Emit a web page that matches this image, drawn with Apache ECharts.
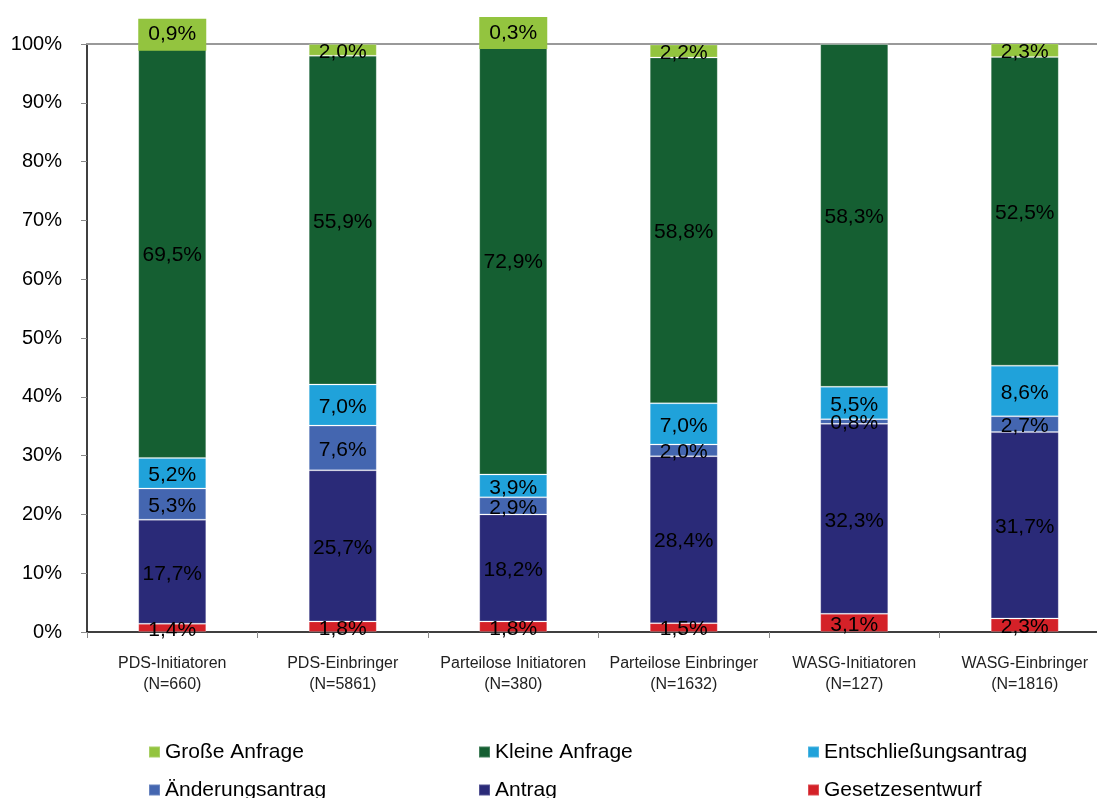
<!DOCTYPE html>
<html>
<head>
<meta charset="utf-8">
<script src="https://cdn.jsdelivr.net/npm/echarts@6/dist/echarts.min.js"></script>
<style>
  html, body { margin: 0; padding: 0; background: #fff; overflow: hidden; }
  #chart { width: 1097px; height: 798px; }
</style>
</head>
<body>
<div id="chart"></div>
<script>
// Anteile der Drucksachentypen je Gruppe (in Prozent)
const categories = [
  'PDS-Initiatoren\n(N=660)',
  'PDS-Einbringer\n(N=5861)',
  'Parteilose Initiatoren\n(N=380)',
  'Parteilose Einbringer\n(N=1632)',
  'WASG-Initiatoren\n(N=127)',
  'WASG-Einbringer\n(N=1816)'
];
const gesetzentwurf = [1.4, 1.8, 1.8, 1.5, 3.1, 2.3];
const antrag = [17.7, 25.7, 18.2, 28.4, 32.3, 31.7];
const aenderungsantrag = [5.3, 7.6, 2.9, 2.0, 0.8, 2.7];
const entschliessungsantrag = [5.2, 7.0, 3.9, 7.0, 5.5, 8.6];
const kleineAnfrage = [69.5, 55.9, 72.9, 58.8, 58.3, 52.5];
const grosseAnfrage = [0.9, 2.0, 0.3, 2.2, 0, 2.3];
const yTicks = [0, 10, 20, 30, 40, 50, 60, 70, 80, 90, 100];

const FONT = '"Liberation Sans", Arial, sans-serif';
const colors = {
  grosse: '#93c43f',
  kleine: '#155f32',
  entschl: '#20a2da',
  aenderung: '#4466b0',
  antrag: '#2a2a78',
  gesetz: '#d42128'
};

const fmt = v => v === 0 ? '' : v.toFixed(1).replace('.', ',') + '%';

function makeSeries(name, values, color, opts) {
  return Object.assign({
    name: name,
    type: 'bar',
    stack: 'total',
    barWidth: 68,
    itemStyle: { color: color, borderColor: 'rgba(255,255,255,0.2)', borderWidth: 1 },
    label: {
      show: true,
      position: 'inside',
      offset: [0, 2],
      color: '#000',
      fontFamily: FONT,
      fontSize: 21,
      formatter: p => fmt(p.value)
    },
    data: values
  }, opts || {});
}

// Very small shares of "Große Anfrage" get a filled label box above the bar
const grosseData = grosseAnfrage.map(v => {
  if (v > 0 && v < 1) {
    return {
      value: v,
      label: {
        backgroundColor: colors.grosse,
        width: 60,
        align: 'center',
        padding: [5, 4, 5, 4],
        lineHeight: 22,
        offset: [0, -12]
      }
    };
  }
  return v;
});

const legendPos = [
  ['Große Anfrage', 148, 741],
  ['Kleine Anfrage', 478, 741],
  ['Entschließungsantrag', 807, 741],
  ['Änderungsantrag', 148, 779],
  ['Antrag', 478, 779],
  ['Gesetzesentwurf', 807, 779]
];

const chart = echarts.init(document.getElementById('chart'), null, { renderer: 'canvas' });
chart.setOption({
  animation: false,
  backgroundColor: '#fff',
  textStyle: { fontFamily: FONT },
  // the plot runs a little past the right edge of the canvas
  grid: { left: 87, width: 1023, top: 44, height: 588, outerBoundsMode: 'none' },
  legend: legendPos.map(([name, x, y]) => ({
    data: [name],
    left: x,
    top: y,
    padding: 0,
    itemWidth: 11,
    itemHeight: 11,
    icon: 'rect',
    selectedMode: false,
    textStyle: { fontFamily: FONT, fontSize: 21, color: '#000', lineHeight: 22 }
  })),
  xAxis: {
    type: 'category',
    data: categories,
    axisLine: { lineStyle: { color: '#000', width: 1.5 } },
    axisTick: { show: true, length: 6, lineStyle: { color: '#888' } },
    axisLabel: {
      interval: 0,
      margin: 21,
      color: '#222',
      fontFamily: FONT,
      fontSize: 16,
      lineHeight: 21
    }
  },
  yAxis: {
    type: 'value',
    min: yTicks[0],
    max: yTicks[yTicks.length - 1],
    interval: 10,
    axisLine: { show: true, lineStyle: { color: '#000', width: 1.5 } },
    axisTick: { show: true, length: 6, lineStyle: { color: '#888' } },
    splitLine: { show: false },
    axisLabel: {
      margin: 25,
      color: '#000',
      fontFamily: FONT,
      fontSize: 20,
      formatter: v => v + '%'
    }
  },
  series: [
    makeSeries('Gesetzesentwurf', gesetzentwurf, colors.gesetz, {
      markLine: {
        silent: true,
        z: 1,
        symbol: 'none',
        label: { show: false },
        lineStyle: { color: '#999', width: 2, type: 'solid' },
        data: [{ yAxis: yTicks[yTicks.length - 1] }]
      }
    }),
    makeSeries('Antrag', antrag, colors.antrag),
    makeSeries('Änderungsantrag', aenderungsantrag, colors.aenderung),
    makeSeries('Entschließungsantrag', entschliessungsantrag, colors.entschl),
    makeSeries('Kleine Anfrage', kleineAnfrage, colors.kleine),
    makeSeries('Große Anfrage', grosseData, colors.grosse)
  ]
});
</script>
</body>
</html>
